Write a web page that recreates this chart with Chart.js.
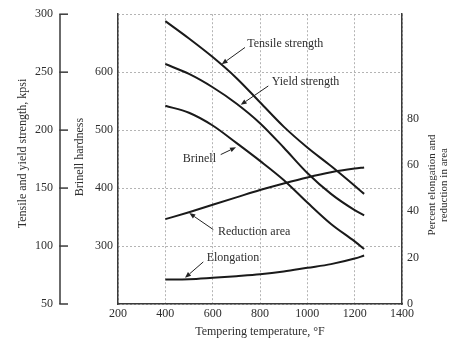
<!DOCTYPE html>
<html>
<head>
<meta charset="utf-8">
<script src="https://cdn.jsdelivr.net/npm/chart.js@4.4.1/dist/chart.umd.min.js"></script>
<style>
html,body{margin:0;padding:0;background:#fff;}
#wrap{width:455px;height:341px;}
</style>
</head>
<body>
<div id="wrap"><canvas id="c" width="455" height="341"></canvas></div>
<script>
// ---- data ----
const temperatures    = [400, 500, 600, 700, 800, 900, 1000, 1100, 1200, 1240];
const tensileStrength = [294, 279, 263, 245, 224, 203, 185, 169, 152, 145];
const yieldStrength   = [257, 248.5, 237, 223, 206, 185, 163, 145, 131, 126.5];
const brinellHardness = [542, 530, 508, 478, 447, 414, 375, 338, 308, 295];
const reductionArea   = [36.6, 39.6, 42.8, 46, 49.2, 52, 54.6, 56.8, 58.4, 58.9];
const elongation      = [10.6, 10.7, 11.3, 12, 12.8, 14, 15.6, 17.2, 19.6, 20.9];

const xTicks        = [200, 400, 600, 800, 1000, 1200, 1400];
const strengthTicks = [50, 100, 150, 200, 250, 300];
const brinellTicks  = [300, 400, 500, 600];
const percentTicks  = [0, 20, 40, 60, 80];

const xTitle        = 'Tempering temperature, °F';
const strengthTitle = 'Tensile and yield strength, kpsi';
const brinellTitle  = 'Brinell hardness';
const percentTitle  = ['Percent elongation and', 'reduction in area'];

// callout labels: text position, arrow tail, arrow head (temperature, kpsi)
const calloutText = ['Tensile strength', 'Yield strength', 'Brinell', 'Reduction area', 'Elongation'];
const calloutAt   = [[746, 274.8], [849.5, 241.6], [473.4, 175.2], [622.5, 111.9], [574.8, 90.1]];
const calloutTail = [[736.6, 271.3], [835, 238.1], [634, 178.9], [602.7, 114.2], [560.4, 86.3]];
const calloutHead = [[638, 256.8], [718.5, 221.8], [698.6, 185.2], [501.3, 128.4], [483.1, 72.6]];

// ---- styling ----
const FONT = '"Liberation Serif", "Times New Roman", serif';
const INK = '#2e2e2e';
const AXIS = '#3a3a3a';
const GRID = '#b4b4b4';
const CURVE = '#1a1a1a';

const pts = arr => temperatures.map((t, i) => ({x: t, y: arr[i]}));
const setTicks = list => s => { s.ticks = list.map(v => ({value: v})); };
const plain = v => String(v);

function series(arr, axis) {
  return {
    data: pts(arr), yAxisID: axis, borderColor: CURVE, borderWidth: 2,
    pointRadius: 0, fill: false, cubicInterpolationMode: 'monotone'
  };
}

const overlay = {
  id: 'overlay',
  afterDraw(chart) {
    const ctx = chart.ctx;
    const {x, y, yB, yP} = chart.scales;
    ctx.save();
    // outer strength axis line with inward ticks
    const ax = y.right;
    ctx.strokeStyle = AXIS; ctx.lineWidth = 1.5;
    ctx.beginPath();
    ctx.moveTo(ax, y.getPixelForValue(strengthTicks[strengthTicks.length - 1]));
    ctx.lineTo(ax, y.getPixelForValue(strengthTicks[0]));
    ctx.stroke();
    strengthTicks.forEach(v => {
      const py = y.getPixelForValue(v);
      ctx.beginPath(); ctx.moveTo(ax - 0.75, py); ctx.lineTo(ax + 8, py); ctx.stroke();
    });

    // rotated axis titles
    ctx.fillStyle = INK;
    ctx.textAlign = 'center'; ctx.textBaseline = 'middle';
    const rot = (txt, cx, cy) => {
      ctx.save(); ctx.translate(cx, cy); ctx.rotate(-Math.PI / 2); ctx.fillText(txt, 0, 0); ctx.restore();
    };
    ctx.font = '12px ' + FONT;
    rot(strengthTitle, y.left + 23, 153.5);
    rot(brinellTitle, yB.left + 20, 157);
    ctx.font = '11px ' + FONT;
    rot(percentTitle[0], yP.left + 30.5, 185);
    rot(percentTitle[1], yP.left + 42, 185);

    // callouts
    ctx.font = '12px ' + FONT;
    ctx.textAlign = 'left';
    ctx.strokeStyle = '#222'; ctx.lineWidth = 1;
    calloutText.forEach((t, i) => {
      const tx = x.getPixelForValue(calloutAt[i][0]), ty = y.getPixelForValue(calloutAt[i][1]);
      ctx.fillStyle = INK;
      ctx.fillText(t, tx, ty);
      const x0 = x.getPixelForValue(calloutTail[i][0]), y0 = y.getPixelForValue(calloutTail[i][1]);
      const x1 = x.getPixelForValue(calloutHead[i][0]), y1 = y.getPixelForValue(calloutHead[i][1]);
      const ang = Math.atan2(y1 - y0, x1 - x0);
      const L = 6, W = 2.4;
      const bx = x1 - L * Math.cos(ang), by = y1 - L * Math.sin(ang);
      ctx.beginPath(); ctx.moveTo(x0, y0); ctx.lineTo(bx, by); ctx.stroke();
      ctx.fillStyle = '#222';
      ctx.beginPath();
      ctx.moveTo(x1, y1);
      ctx.lineTo(bx + W * Math.sin(ang), by - W * Math.cos(ang));
      ctx.lineTo(bx - W * Math.sin(ang), by + W * Math.cos(ang));
      ctx.closePath(); ctx.fill();
    });
    ctx.restore();
  }
};

const tickFont = {family: FONT, size: 12};

new Chart(document.getElementById('c'), {
  type: 'line',
  data: {
    datasets: [
      series(tensileStrength, 'y'),
      series(yieldStrength, 'y'),
      series(brinellHardness, 'yB'),
      series(reductionArea, 'yP'),
      series(elongation, 'yP')
    ]
  },
  options: {
    responsive: false,
    animation: false,
    devicePixelRatio: 1,
    layout: {padding: {top: 13, left: 0, right: 0, bottom: 0}},
    plugins: {legend: {display: false}, tooltip: {enabled: false}},
    scales: {
      x: {
        type: 'linear', position: 'bottom', min: 200, max: 1400,
        afterBuildTicks: setTicks(xTicks),
        afterFit: s => { s.height = 37; },
        ticks: {font: tickFont, color: INK, padding: 3, maxRotation: 0, autoSkip: false, callback: plain},
        grid: {color: GRID, lineWidth: 1, drawTicks: false},
        border: {display: true, color: AXIS, width: 1.5, dash: [2, 2]},
        title: {display: true, text: xTitle, font: {family: FONT, size: 12}, color: INK, padding: {top: 0, bottom: 2}}
      },
      y: {
        type: 'linear', position: 'left', weight: 2, min: 50, max: 300,
        afterBuildTicks: setTicks(strengthTicks),
        afterFit: s => { s.width = 60; },
        ticks: {font: tickFont, color: INK, padding: 7, callback: plain},
        grid: {color: GRID, lineWidth: 1, drawTicks: false, drawOnChartArea: true},
        border: {display: false, dash: [2, 2]}
      },
      yB: {
        type: 'linear', position: 'left', weight: 1, min: 200, max: 700,
        afterBuildTicks: setTicks(brinellTicks),
        afterFit: s => { s.width = 58; },
        ticks: {font: tickFont, color: INK, padding: 5, callback: plain},
        grid: {display: false, drawOnChartArea: false, drawTicks: false},
        border: {display: true, color: AXIS, width: 1.5}
      },
      yP: {
        type: 'linear', position: 'right', min: 0, max: 125,
        afterBuildTicks: setTicks(percentTicks),
        afterFit: s => { s.width = 53; },
        ticks: {font: tickFont, color: INK, padding: 5, callback: plain},
        grid: {display: false, drawOnChartArea: false, drawTicks: false},
        border: {display: true, color: AXIS, width: 1.5}
      }
    }
  },
  plugins: [overlay]
});
</script>
</body>
</html>
